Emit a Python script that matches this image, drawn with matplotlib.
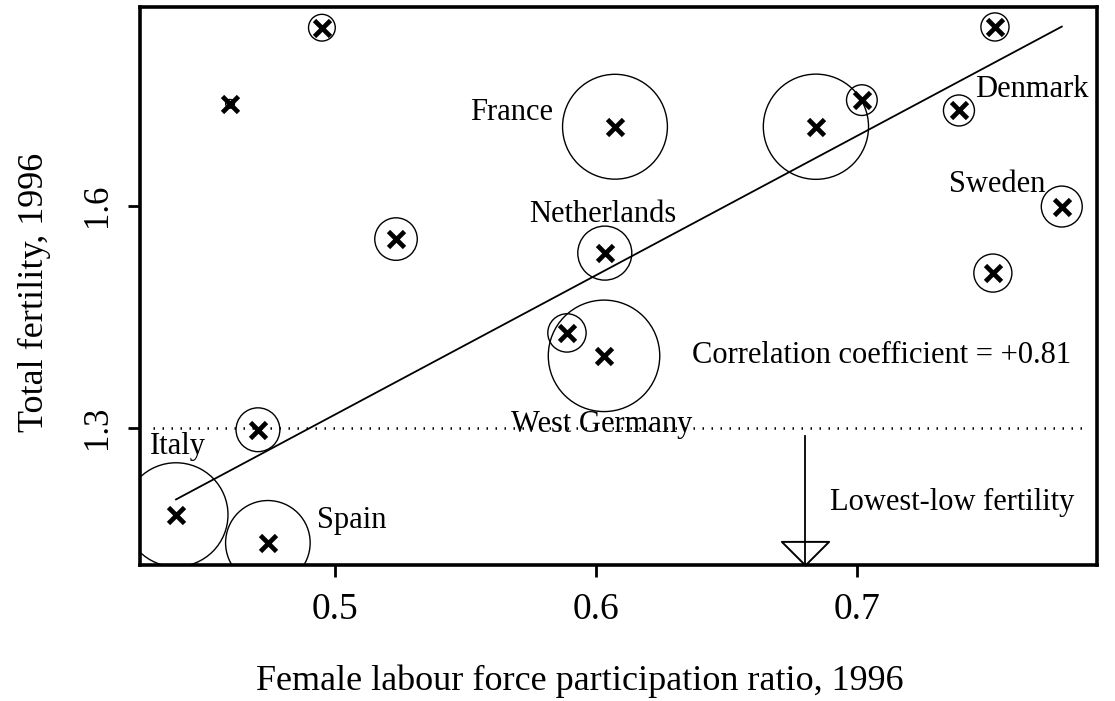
import numpy as np
import matplotlib.pyplot as plt
from matplotlib.path import Path

plt.rcParams['font.family'] = ['Liberation Serif', 'DejaVu Serif']

# data
labour_ratio = [0.495, 0.4598, 0.6073, 0.6034, 0.5234, 0.6843, 0.7019, 0.7529,
                0.7391, 0.7785, 0.7521, 0.5889, 0.6031, 0.4705, 0.4391, 0.4743]
fertility = [1.841, 1.738, 1.707, 1.536, 1.555, 1.707, 1.743, 1.842,
             1.729, 1.599, 1.509, 1.428, 1.397, 1.297, 1.182, 1.144]
# circle area ~ population (millions)
population = [3.8, 0.4, 58.4, 15.5, 9.6, 58.8, 5.0, 4.2,
              5.1, 8.9, 7.7, 7.8, 66.0, 10.2, 57.4, 38.0]

labels = {'France': (0.5835, 1.7164, 'right'),
          'Netherlands': (0.6025, 1.5783, 'center'),
          'Denmark': (0.7452, 1.7475, 'left'),
          'Sweden': (0.7352, 1.619, 'left'),
          'West Germany': (0.6021, 1.2942, 'center'),
          'Italy': (0.4291, 1.2644, 'left'),
          'Spain': (0.4931, 1.1643, 'left')}

fit_intercept = 0.375
fit_slope = 1.885
corr_text = 'Correlation coefficient = +0.81'
lowest_low = 1.3
arrow_x = 0.68

xlim = (0.4253, 0.792)
ylim = (1.114, 1.869)

fig = plt.figure(figsize=(11.15, 7.01), dpi=100)
ax = fig.add_axes([140 / 1115, 136 / 701, 957 / 1115, 558 / 701])

# population circles
ax.scatter(labour_ratio, fertility, s=np.array(population) * 97.6,
           facecolors='none', edgecolors='black', linewidths=1.0, zorder=2)
ax.plot(labour_ratio, fertility, linestyle='none', marker='x', ms=11.5,
        mew=3.4, color='black', zorder=3)

# regression line
xs = np.array([min(labour_ratio), max(labour_ratio)])
ax.plot(xs, fit_intercept + fit_slope * xs, color='black', lw=1.3, zorder=2)

# lowest-low threshold
ax.axhline(lowest_low, xmin=0.0136, xmax=0.984, color='black', lw=1.8,
           dashes=(0.6, 3.0), zorder=1)

for name, (tx, ty, ha) in labels.items():
    ax.text(tx, ty, name, ha=ha, va='baseline', fontsize=22, zorder=4)

ax.text(0.6368, 1.3875, corr_text, ha='left', va='baseline', fontsize=22)
ax.text(0.6897, 1.1886, 'Lowest-low fertility', ha='left', va='baseline',
        fontsize=22)

# arrow down to the axis
ax.plot([arrow_x, arrow_x], [1.289, ylim[0]], color='black', lw=1.3,
        clip_on=False)
tri = Path([(0, 0), (-1, 1), (1, 1), (0, 0)],
           [Path.MOVETO, Path.LINETO, Path.LINETO, Path.CLOSEPOLY])
ax.plot(arrow_x, ylim[0], marker=tri, ms=34, mfc='none', mec='black',
        mew=1.4, clip_on=False)

ax.set_xlim(*xlim)
ax.set_ylim(*ylim)
ax.set_xticks([0.5, 0.6, 0.7])
ax.set_xticklabels(['0.5', '0.6', '0.7'], fontsize=27)
ax.set_yticks([1.3, 1.6])
ax.set_yticklabels(['1.3', '1.6'], fontsize=25, rotation=90, va='center')
ax.tick_params(axis='both', direction='out', length=8.6, width=2.0)
ax.tick_params(axis='x', pad=11)
ax.tick_params(axis='y', pad=10)
for sp in ax.spines.values():
    sp.set_linewidth(2.6)

fig.text(580 / 1115, 11 / 701, 'Female labour force participation ratio, 1996',
         ha='center', va='baseline', fontsize=26)
fig.text(34 / 1115, 409 / 701, 'Total fertility, 1996', rotation=90,
         ha='center', va='center', fontsize=26)

fig.savefig('out.png', dpi=100)
